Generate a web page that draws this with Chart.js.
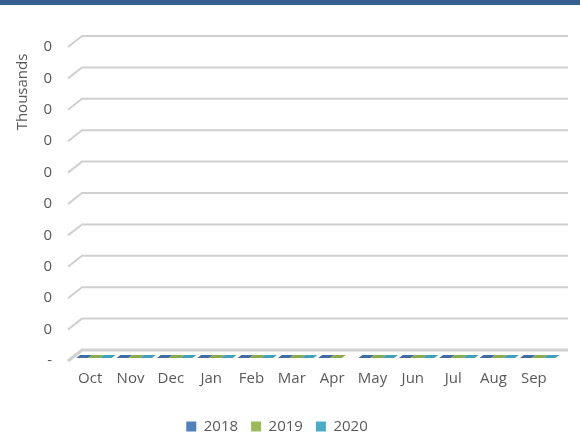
<!DOCTYPE html>
<html>
<head>
<meta charset="utf-8">
<title>Monthly volume</title>
<script src="https://cdn.jsdelivr.net/npm/chart.js@4.4.1/dist/chart.umd.min.js"></script>
<style>
  html, body { margin: 0; padding: 0; background: #ffffff; }
  #wrap { width: 580px; height: 434px; position: relative; }
</style>
</head>
<body>
<div id="wrap"><canvas id="volChart" width="580" height="434"></canvas></div>
<script>
// ── Data ─────────────────────────────────────────────────────────────────────
const months      = ['Oct', 'Nov', 'Dec', 'Jan', 'Feb', 'Mar', 'Apr', 'May', 'Jun', 'Jul', 'Aug', 'Sep'];
const yTickLabels = ['-', '0', '0', '0', '0', '0', '0', '0', '0', '0', '0'];
const vol2018     = [0, 0, 0, 0, 0, 0, 0, 0, 0, 0, 0, 0];
const vol2019     = [0, 0, 0, 0, 0, 0, 0, 0, 0, 0, 0, 0];
const vol2020     = [0, 0, 0, 0, 0, 0, null, 0, 0, 0, 0, 0];

// ── Colours ──────────────────────────────────────────────────────────────────
const COLORS = {
  s2018: '#4F81BD', s2019: '#9BBB59', s2020: '#4BACC6',
  face2018: '#3F6CA5', face2019: '#8BAA4D', face2020: '#41A0B9',
  grid: '#D0D0D0', text: '#595959', header: '#345E92',
};

// depth of the 3D box: back wall offset from the front plane
const DEPTH = { dx: 14, dy: -11 };

// ── Plugin: header strip, 3D walls, column tops, axis title ──────────────────
const wall3d = {
  id: 'wall3d',
  beforeDraw(chart) {
    const ctx = chart.ctx;
    ctx.save();
    ctx.fillStyle = COLORS.header;
    ctx.fillRect(0, 0, chart.width, 5);
    ctx.restore();
  },
  beforeDatasetsDraw(chart) {
    const { ctx, chartArea: a, scales: { y } } = chart;
    ctx.save();
    ctx.strokeStyle = COLORS.grid;
    y.ticks.forEach((t, i) => {
      const yf = y.getPixelForValue(t.value);
      const x0 = a.left - 2;
      ctx.lineWidth = i === 0 ? 3 : 2;
      ctx.beginPath();
      ctx.moveTo(x0, yf);
      ctx.lineTo(x0 + DEPTH.dx, yf + DEPTH.dy);
      ctx.lineTo(a.right + DEPTH.dx, yf + DEPTH.dy);
      ctx.stroke();
    });
    ctx.restore();
  },
  afterDatasetsDraw(chart) {
    const ctx = chart.ctx;
    const f0 = 0.27, f1 = 0.55;   // front / back of the columns within the depth
    ctx.save();
    chart.data.datasets.forEach((ds, di) => {
      const meta = chart.getDatasetMeta(di);
      meta.data.forEach((el, i) => {
        if (ds.data[i] === null || ds.data[i] === undefined) return;
        const l = el.x - el.width / 2, r = el.x + el.width / 2;
        const yv = el.y;
        ctx.fillStyle = ds.faceColor;
        ctx.beginPath();
        ctx.moveTo(l + DEPTH.dx * f0, yv + DEPTH.dy * f0);
        ctx.lineTo(r + DEPTH.dx * f0, yv + DEPTH.dy * f0);
        ctx.lineTo(r + DEPTH.dx * f1, yv + DEPTH.dy * f1);
        ctx.lineTo(l + DEPTH.dx * f1, yv + DEPTH.dy * f1);
        ctx.closePath();
        ctx.fill();
      });
    });
    ctx.restore();
  },
  afterDraw(chart) {
    const ctx = chart.ctx;
    ctx.save();
    ctx.translate(23, 92);
    ctx.rotate(-Math.PI / 2);
    ctx.fillStyle = COLORS.text;
    ctx.font = "15px 'Open Sans', sans-serif";
    ctx.textAlign = 'center';
    ctx.textBaseline = 'middle';
    ctx.fillText('Thousands', 0, 0);
    ctx.restore();
  },
};

Chart.defaults.font.family = "'Open Sans', sans-serif";
Chart.defaults.font.size   = 15;
Chart.defaults.color       = COLORS.text;

const makeSet = (label, data, color, face) => ({
  label, data,
  backgroundColor: color,
  faceColor: face,
  borderWidth: 0,
  categoryPercentage: 0.88,
  barPercentage: 1.0,
});

new Chart(document.getElementById('volChart'), {
  type: 'bar',
  data: {
    labels: months,
    datasets: [
      makeSet('2018', vol2018, COLORS.s2018, COLORS.face2018),
      makeSet('2019', vol2019, COLORS.s2019, COLORS.face2019),
      makeSet('2020', vol2020, COLORS.s2020, COLORS.face2020),
    ],
  },
  options: {
    responsive: false,
    animation: false,
    layout: { padding: { top: 47, right: 26, bottom: -10, left: 0 } },
    plugins: {
      tooltip: { enabled: false },
      legend: {
        position: 'bottom',
        labels: { boxWidth: 10, boxHeight: 10, padding: 13, color: COLORS.text },
      },
    },
    scales: {
      x: {
        grid: { display: false, drawTicks: false },
        border: { display: false },
        ticks: { padding: 9 },
        afterFit: s => { s.height = 45; },
      },
      y: {
        min: 0,
        max: 10,
        grid: { display: false, drawTicks: false },
        border: { display: false },
        ticks: {
          stepSize: 1,
          padding: 18,
          callback: (v, i) => yTickLabels[i],
        },
        afterFit: s => { s.width = 70; },
      },
    },
  },
  plugins: [wall3d],
});
</script>
</body>
</html>
